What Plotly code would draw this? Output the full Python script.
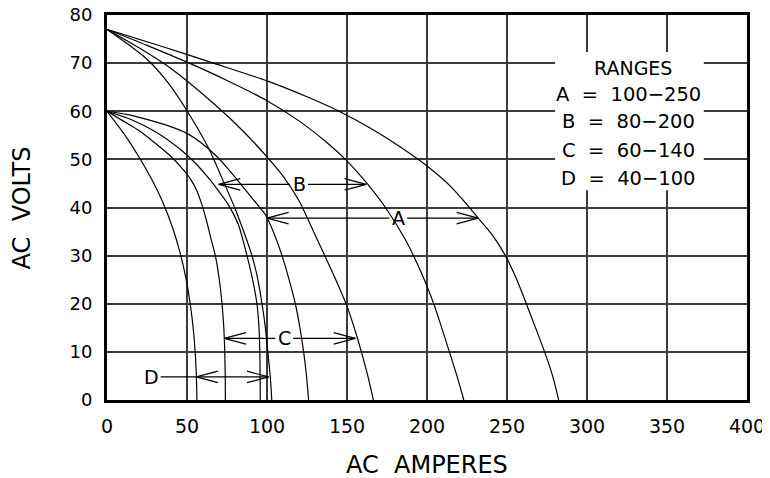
import plotly.graph_objects as go

# volt-ampere curves (AC amperes, AC volts)
u1_amps = [0, 33, 66.5, 100, 125, 145, 165, 185, 202, 215, 225, 232, 241, 249, 255.5, 261.5, 267.5, 273.5, 278.5, 282.3]
u1_volts = [77, 73.6, 70, 66.3, 63, 60, 56.4, 52.2, 48.1, 44.3, 40.6, 37.8, 34.2, 30, 25.5, 20.5, 15.3, 10, 5, 0]

u2_amps = [0, 25, 50, 75, 100, 120, 137, 149, 162, 174, 186, 196, 204, 209, 214, 218.7, 223]
u2_volts = [77, 73.7, 70.2, 66.4, 62.2, 58, 53.6, 50, 45.2, 40, 33.6, 26.8, 20.2, 15.2, 10, 5, 0]

u3_amps = [0, 20, 40, 67.7, 85, 100, 110, 120, 128, 135.4, 143, 150, 155, 159, 163, 166.5]
u3_volts = [77, 73.2, 68.9, 61.3, 55.9, 50.5, 46.5, 41.4, 35.8, 30.5, 25, 19.5, 14.5, 10, 5, 0]

u4_amps = [0, 12, 25, 38, 50, 63.5, 72, 80, 86, 90.6, 94, 96.9, 99, 100.5, 102, 103]
u4_volts = [77, 74.2, 70.8, 66, 60.1, 52.3, 46, 39.8, 34.5, 30, 25.5, 20, 15, 10, 5, 0]

l1_amps = [0, 10, 20, 28, 35, 41, 46, 49.5, 52, 54, 55.2, 55.9, 56.2]
l1_volts = [60, 55.6, 50.5, 45.8, 41, 35.8, 30.2, 25, 20, 14.5, 9.5, 4.5, 0]

l2_amps = [0, 10, 20, 30, 40, 46, 52, 56, 59.4, 62, 65, 67.7, 70, 71.9, 73, 73.6, 73.9, 74]
l2_volts = [60, 58, 56, 53.4, 50.6, 48.5, 46, 43.6, 40.5, 37.5, 33.5, 30, 25.5, 20, 15, 10, 5, 0]

l3_amps = [0, 15, 30, 45, 55, 63, 70, 76, 82, 87.5, 91, 93.7, 95, 95.5, 95.8]
l3_volts = [60, 58.3, 55.8, 52.3, 49.3, 46.3, 43.3, 40.5, 36.5, 30, 25, 20, 15, 10, 0]

l4_amps = [0, 13, 26, 38, 50, 59, 67.7, 75, 82.3, 91, 99, 104.5, 109.4, 113.8, 117.7, 120.6, 122.9, 124.7, 126]
l4_volts = [60, 59.3, 58.2, 57, 55.4, 53.4, 50.9, 48.3, 45.4, 41.8, 38.5, 34.5, 30, 25, 20, 15, 10, 5, 0]

curves = [(u1_amps, u1_volts), (u2_amps, u2_volts), (u3_amps, u3_volts), (u4_amps, u4_volts),
          (l1_amps, l1_volts), (l2_amps, l2_volts), (l3_amps, l3_volts), (l4_amps, l4_volts)]

# range arrows
range_names = ["A", "B", "C", "D"]
range_lo = [100, 80, 60, 40]
range_hi = [250, 200, 140, 100]
arrow_volts = [37.8, 44.8, 12.8, 4.8]
arrow_left = [100, 69.8, 73.3, 55.8]
arrow_right = [232, 162, 155.2, 101]
label_amps = [182, 120, 110.8, 28]

fig = go.Figure()

for xs, ys in curves:
    fig.add_trace(go.Scatter(x=xs, y=ys, mode="lines",
                             line=dict(color="black", width=1.2, shape="spline", smoothing=0.8),
                             hoverinfo="skip", showlegend=False))

gap = 5.6      # half gap around letter (A)
arm = 13.5     # arrow arm length (A)
hh = 1.2       # arrow arm half height (V)
for name, v, lt, rt, la in zip(range_names, arrow_volts, arrow_left, arrow_right, label_amps):
    xs, ys = [], []
    if lt < la < rt:
        xs += [lt, la - gap, None, la + gap, rt, None]
        ys += [v, v, None, v, v, None]
    else:
        xs += [la + gap, rt, None]
        ys += [v, v, None]
    # open chevrons
    xs += [lt + arm, lt, lt + arm, None, rt - arm, rt, rt - arm]
    ys += [v + hh, v, v - hh, None, v + hh, v, v - hh]
    fig.add_trace(go.Scatter(x=xs, y=ys, mode="lines", line=dict(color="black", width=1.2),
                             hoverinfo="skip", showlegend=False))
    fig.add_annotation(x=la, y=v, text=name, showarrow=False, xanchor="center", yanchor="middle",
                       font=dict(size=19, color="black"))

# white box behind the ranges table
fig.add_shape(type="rect", x0=280, x1=373, y0=43.6, y1=72.3, fillcolor="white",
              line=dict(width=0), layer="above")

nb = "\u00a0"
fig.add_annotation(x=329, y=68.9, text="RANGES", showarrow=False, xanchor="center", yanchor="middle",
                   font=dict(size=19, color="black"))
table_v = [63.4, 57.8, 51.9, 46.1]
for name, lo, hi, v in zip(range_names, range_lo, range_hi, table_v):
    txt = f"{name}{nb}{nb}={nb}{nb}{lo}\u2212{hi}"
    fig.add_annotation(x=326, y=v, text=txt, showarrow=False, xanchor="center", yanchor="middle",
                       font=dict(size=19.5, color="black"))

# axis titles
fig.add_annotation(x=0.5, y=-0.169, xref="paper", yref="paper", text="AC" + nb * 2 + "AMPERES",
                   xanchor="center", yanchor="middle", showarrow=False, font=dict(size=24, color="black"))
fig.add_annotation(x=-0.133, y=0.5, xref="paper", yref="paper", text="AC" + nb * 2 + "VOLTS",
                   xanchor="center", yanchor="middle", textangle=-90, showarrow=False,
                   font=dict(size=24, color="black"))

axis_common = dict(showgrid=True, gridcolor="#3a3a3a", gridwidth=1.6, zeroline=False,
                   showline=True, linecolor="black", linewidth=3, mirror=True, ticks="",
                   automargin=False, ticklabeloverflow="allow")
fig.update_xaxes(range=[0, 400], dtick=50, tick0=0, ticklabelstandoff=7,
                 tickfont=dict(size=19, color="black"), **axis_common)
fig.update_yaxes(range=[0, 80], dtick=10, tick0=0, ticklabelstandoff=8,
                 tickfont=dict(size=18, color="black"), **axis_common)

# page body adds an 8px offset, so the figure is a bit smaller than the window
fig.update_layout(width=762, height=470, margin=dict(l=99, r=23, t=7, b=78),
                  plot_bgcolor="white", paper_bgcolor="white",
                  font=dict(family="DejaVu Sans", color="black"))

fig.write_html("out.html")
